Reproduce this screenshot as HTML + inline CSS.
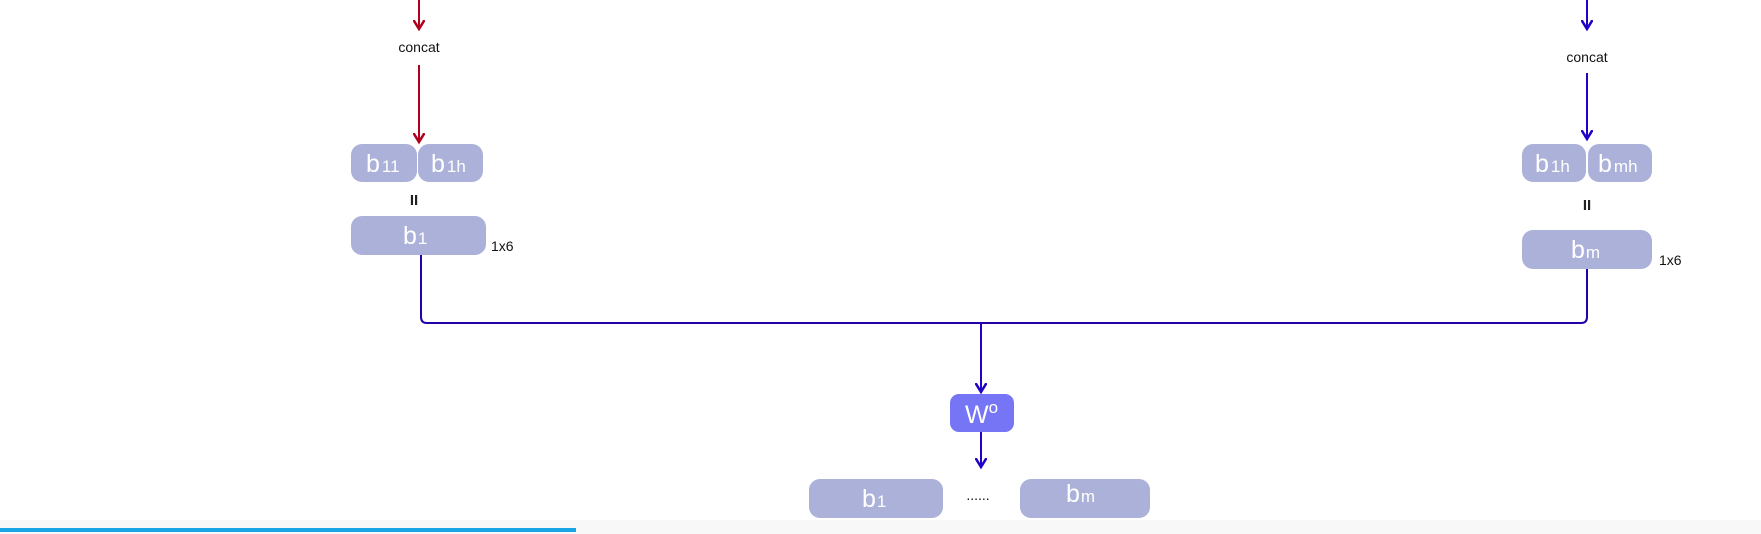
<!DOCTYPE html>
<html><head><meta charset="utf-8"><style>
html,body{margin:0;padding:0;background:#fff;}
body{width:1761px;height:534px;overflow:hidden;position:relative;font-family:"Liberation Sans",sans-serif;}
svg{position:absolute;left:0;top:0;}
.box{fill:#abb1d9;}
.bt{fill:#fff;font-size:25px;font-family:"Liberation Sans",sans-serif;}
.sub{font-size:17px;}
.lbl{fill:#111;font-size:14px;}
</style></head><body>
<svg width="1761" height="534">
<defs>
<marker id="ar" markerWidth="12" markerHeight="12" refX="9" refY="6" orient="auto" markerUnits="userSpaceOnUse"><path d="M0,0.5 L9,6 L0,11.5" fill="none" stroke="#b0001e" stroke-width="2.5"/></marker>
<marker id="ab" markerWidth="12" markerHeight="12" refX="9" refY="6" orient="auto" markerUnits="userSpaceOnUse"><path d="M0,0.5 L9,6 L0,11.5" fill="none" stroke="#2200c8" stroke-width="2.5"/></marker>
</defs>
<g>
<line x1="419" y1="0" x2="419" y2="29" stroke="#b0001e" stroke-width="2" marker-end="url(#ar)"/>
<text x="419" y="52" text-anchor="middle" class="lbl">concat</text>
<line x1="419" y1="65" x2="419" y2="142" stroke="#b0001e" stroke-width="2" marker-end="url(#ar)"/>
<rect x="351" y="144" width="66" height="38" rx="11" class="box"/>
<text x="366" y="172" class="bt">b<tspan class="sub" dx="2">11</tspan></text>
<rect x="418" y="144" width="65" height="38" rx="11" class="box"/>
<text x="431" y="172" class="bt">b<tspan class="sub" dx="2">1h</tspan></text>
<text x="414" y="205" text-anchor="middle" style="font-size:15px;font-weight:bold;fill:#222">II</text>
<rect x="351" y="216" width="135" height="39" rx="11" class="box"/>
<text x="403" y="244" class="bt">b<tspan class="sub" dx="1">1</tspan></text>
<text x="491" y="251" class="lbl">1x6</text>
</g>
<g>
<line x1="1587" y1="0" x2="1587" y2="29" stroke="#2200c8" stroke-width="2" marker-end="url(#ab)"/>
<text x="1587" y="62" text-anchor="middle" class="lbl">concat</text>
<line x1="1587" y1="73" x2="1587" y2="139" stroke="#2200c8" stroke-width="2" marker-end="url(#ab)"/>
<rect x="1522" y="144" width="64" height="38" rx="11" class="box"/>
<text x="1535" y="172" class="bt">b<tspan class="sub" dx="2">1h</tspan></text>
<rect x="1588" y="144" width="64" height="38" rx="11" class="box"/>
<text x="1598" y="172" class="bt">b<tspan class="sub" dx="2">mh</tspan></text>
<text x="1587" y="210" text-anchor="middle" style="font-size:15px;font-weight:bold;fill:#222">II</text>
<rect x="1522" y="230" width="130" height="39" rx="11" class="box"/>
<text x="1571" y="258" class="bt">b<tspan class="sub" dx="1">m</tspan></text>
<text x="1659" y="265" class="lbl">1x6</text>
</g>
<path d="M421,255 V317 Q421,323 427,323 H1581 Q1587,323 1587,317 V269" fill="none" stroke="#2200aa" stroke-width="2"/>
<line x1="981" y1="324" x2="981" y2="392" stroke="#2200c8" stroke-width="2" marker-end="url(#ab)"/>
<rect x="950" y="394" width="64" height="38" rx="9" fill="#7575f5"/>
<text x="965" y="423" class="bt">W<tspan dy="-10" class="sub">o</tspan></text>
<line x1="981" y1="432" x2="981" y2="467" stroke="#2200c8" stroke-width="2" marker-end="url(#ab)"/>
<rect x="809" y="479" width="134" height="39" rx="11" class="box"/>
<text x="862" y="507" class="bt">b<tspan class="sub" dx="1">1</tspan></text>
<text x="978" y="500" text-anchor="middle" class="lbl">......</text>
<rect x="1020" y="479" width="130" height="39" rx="11" class="box"/>
<text x="1066" y="502" class="bt">b<tspan class="sub" dx="1">m</tspan></text>
<rect x="0" y="520" width="1761" height="14" fill="#f8f8f8"/>
<rect x="0" y="528" width="576" height="4" fill="#1aa6e6"/>
</svg>
</body></html>
